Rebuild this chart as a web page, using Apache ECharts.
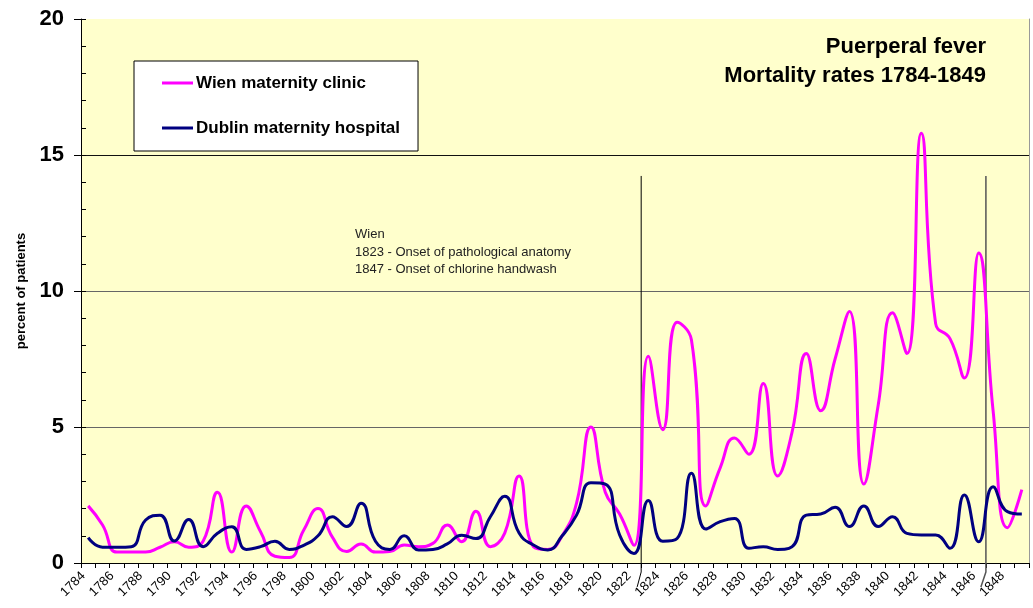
<!DOCTYPE html>
<html>
<head>
<meta charset="utf-8">
<script src="https://cdn.jsdelivr.net/npm/echarts@6/dist/echarts.min.js"></script>
<style>
html,body{margin:0;padding:0;background:#fff;}
#chart{width:1033px;height:608px;}
</style>
</head>
<body>
<div id="chart"></div>
<script>
const years = ['1784','1785','1786','1787','1788','1789','1790','1791','1792','1793','1794','1795','1796','1797','1798','1799',
  '1800','1801','1802','1803','1804','1805','1806','1807','1808','1809','1810','1811','1812','1813','1814','1815',
  '1816','1817','1818','1819','1820','1821','1822','1823','1824','1825','1826','1827','1828','1829','1830','1831',
  '1832','1833','1834','1835','1836','1837','1838','1839','1840','1841','1842','1843','1844','1845','1846','1847',
  '1848','1849'];

const wien = [2.1,1.4,0.4,0.4,0.4,0.58,0.78,0.58,0.8,2.6,0.4,2.1,1.15,0.25,0.2,1.2,
  2.0,0.95,0.42,0.7,0.4,0.42,0.66,0.6,0.72,1.4,0.78,1.9,0.6,1.1,3.2,0.6,
  0.5,1.0,2.2,5.0,2.6,1.8,0.65,7.6,4.9,8.85,8.2,2.1,3.5,4.6,4.0,6.6,
  3.2,4.8,7.7,5.6,7.5,9.25,2.9,5.8,9.2,7.7,15.8,8.8,8.25,6.8,11.4,5.6,
  1.3,2.7];

const dublin = [0.93,0.58,0.58,0.6,1.58,1.76,0.81,1.6,0.6,1.09,1.33,0.5,0.6,0.8,0.5,0.65,
  1.0,1.7,1.34,2.2,0.8,0.5,1.0,0.48,0.5,0.7,1.02,0.9,1.7,2.45,1.1,0.66,
  0.48,1.0,1.76,2.95,2.9,1.03,0.35,2.3,0.8,0.9,3.3,1.25,1.52,1.64,0.54,0.6,
  0.5,0.6,1.76,1.8,2.05,1.34,2.1,1.34,1.7,1.09,1.03,1.03,0.54,2.5,0.78,2.8,
  1.89,1.8];

const seriesNames = ['Wien maternity clinic', 'Dublin maternity hospital'];
const yTicks = [0, 5, 10, 15, 20];

// event markers: [category boundary index, value]
const marker1823 = [[39, 14.23], [39, -0.33], [38.72, -0.88]];
const marker1847 = [[63, 14.23], [63, -0.33], [62.65, -0.88]];

const titleLines = ['Puerperal fever', 'Mortality rates 1784-1849'];
const noteText = 'Wien\n1823 - Onset of pathological anatomy\n1847 - Onset of chlorine handwash';

const chart = echarts.init(document.getElementById('chart'), null, {renderer: 'canvas'});
const FONT = 'Liberation Sans, Arial, sans-serif';

chart.setOption({
  animation: false,
  backgroundColor: '#ffffff',
  textStyle: {fontFamily: FONT},
  title: [
    {text: titleLines[0], right: 47, top: 36, padding: 0,
     textStyle: {fontSize: 22, fontWeight: 'bold', color: '#000', fontFamily: FONT}},
    {text: titleLines[1], right: 47, top: 65, padding: 0,
     textStyle: {fontSize: 22, fontWeight: 'bold', color: '#000', fontFamily: FONT}},
    {text: noteText, left: 355, top: 226, padding: 0,
     textStyle: {fontSize: 13, fontWeight: 'normal', color: '#222', lineHeight: 17.5, fontFamily: FONT}}
  ],
  legend: {
    orient: 'vertical',
    left: 134,
    top: 61,
    padding: [12, 18, 13, 28],
    itemGap: 25,
    itemWidth: 31,
    itemHeight: 3,
    icon: 'rect',
    backgroundColor: '#ffffff',
    borderColor: '#000000',
    borderWidth: 1,
    data: seriesNames,
    textStyle: {fontSize: 17, fontWeight: 'bold', color: '#000', lineHeight: 20, fontFamily: FONT, padding: [0,0,0,-2]}
  },
  grid: {
    left: 81, right: 4, top: 19, bottom: 45,
    show: true, backgroundColor: '#FFFFCC', borderWidth: 0,
    outerBoundsMode: 'none'
  },
  xAxis: [
    {
      type: 'category',
      data: years,
      boundaryGap: true,
      axisLine: {lineStyle: {color: '#000', width: 1}},
      axisTick: {show: true, interval: 0, length: 5, lineStyle: {color: '#000'}},
      axisLabel: {interval: 1, rotate: 45, fontSize: 13, color: '#000', margin: 6,
                  padding: [0, 7, 0, 0], fontFamily: FONT},
      splitLine: {show: false}
    },
    {
      type: 'value', min: 0, max: 66, show: false
    }
  ],
  yAxis: [
    {
      type: 'value', min: 0, max: 20, interval: 5,
      name: 'percent of patients',
      nameLocation: 'middle',
      nameGap: 53,
      nameRotate: 90,
      nameTextStyle: {fontSize: 13, fontWeight: 'bold', color: '#000', fontFamily: FONT},
      axisLine: {show: true, lineStyle: {color: '#000', width: 1}},
      axisTick: {show: true, length: 7, lineStyle: {color: '#000'}},
      axisLabel: {fontSize: 22, fontWeight: 900, color: '#000', margin: 17, fontFamily: FONT},
      splitLine: {show: true, lineStyle: {color: ['#000', '#666', '#666', '#111', 'rgba(0,0,0,0)'], width: 1}}
    },
    {
      type: 'value', min: 0, max: 20, interval: 1, position: 'left',
      axisLine: {show: false},
      axisTick: {show: true, inside: true, length: 5, lineStyle: {color: '#000'}},
      axisLabel: {show: false},
      splitLine: {show: false}
    },
    {
      type: 'value', min: 0, max: 20, interval: 5, position: 'right',
      axisLine: {show: true, lineStyle: {color: '#999', width: 1}},
      axisTick: {show: false},
      axisLabel: {show: false},
      splitLine: {show: false}
    }
  ],
  series: [
    {
      name: 'line1823', type: 'line', xAxisIndex: 1, yAxisIndex: 0,
      data: marker1823, showSymbol: false, clip: false, silent: true,
      lineStyle: {color: '#000', width: 1}, z: 1
    },
    {
      name: 'line1847', type: 'line', xAxisIndex: 1, yAxisIndex: 0,
      data: marker1847, showSymbol: false, clip: false, silent: true,
      lineStyle: {color: '#555', width: 1.5}, z: 1
    },
    {
      name: seriesNames[0], type: 'line', data: wien, smooth: 0.5,
      showSymbol: false, symbol: 'none',
      lineStyle: {color: '#FF00FF', width: 3}, itemStyle: {color: '#FF00FF'}, z: 3
    },
    {
      name: seriesNames[1], type: 'line', data: dublin, smooth: 0.5,
      showSymbol: false, symbol: 'none',
      lineStyle: {color: '#000080', width: 3}, itemStyle: {color: '#000080'}, z: 4
    }
  ]
});
</script>
</body>
</html>
